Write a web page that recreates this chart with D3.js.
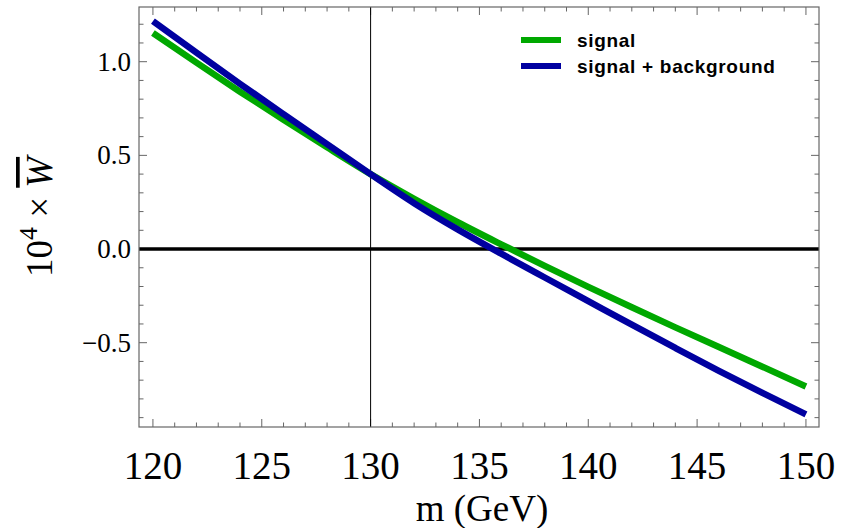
<!DOCTYPE html>
<html>
<head>
<meta charset="utf-8">
<script src="https://cdn.jsdelivr.net/npm/d3@7"></script>
<style>
  html, body { margin: 0; padding: 0; background: #fff; }
  svg text { fill: #000; }
</style>
</head>
<body>
<div id="chart"></div>
<script>
// masses (GeV)
const masses = [120, 122, 124, 126, 128, 130, 132, 134, 136, 138, 140, 142, 144, 146, 148, 150];
// 10^4 x W-bar
const signalValues = [1.153, 0.995, 0.84, 0.69, 0.543, 0.40, 0.268, 0.143, 0.025, -0.09, -0.202, -0.311, -0.418, -0.523, -0.628, -0.734];
const signalBgValues = [1.217, 1.048, 0.882, 0.72, 0.56, 0.40, 0.245, 0.105, -0.025, -0.152, -0.278, -0.404, -0.528, -0.65, -0.768, -0.883];

const xTicks = [120, 125, 130, 135, 140, 145, 150];
const yTicks = [-0.5, 0.0, 0.5, 1.0];
const seriesNames = ['signal', 'signal + background'];
const seriesColors = ['#00a800', '#0000a0'];
const markerMass = 130;

const W = 852, H = 528;
const margin = { top: 7, right: 33, bottom: 101, left: 139 };
const width = W - margin.left - margin.right;
const height = H - margin.top - margin.bottom;

const svg = d3.select('#chart').append('svg')
  .attr('width', W)
  .attr('height', H);

const g = svg.append('g')
  .attr('transform', `translate(${margin.left},${margin.top})`);

const x = d3.scaleLinear().domain([119.36, 150.6]).range([0, width]);
const y = d3.scaleLinear().domain([-0.95, 1.292]).range([height, 0]);

const frameColor = '#666';
const serif = '"Liberation Serif", "Times New Roman", serif';

// minor / major ticks, drawn inward on all four sides
const xMinor = d3.range(120, 151, 1).filter(v => !xTicks.includes(v));
const yMinor = d3.range(-9, 13).map(v => v / 10).filter(v => !yTicks.some(t => Math.abs(t - v) < 1e-9));

function drawTicks(values, len) {
  values.forEach(v => {
    g.append('line').attr('x1', x(v)).attr('x2', x(v)).attr('y1', height).attr('y2', height - len)
      .attr('stroke', frameColor).attr('stroke-width', 1);
    g.append('line').attr('x1', x(v)).attr('x2', x(v)).attr('y1', 0).attr('y2', len)
      .attr('stroke', frameColor).attr('stroke-width', 1);
  });
}
function drawYTicks(values, len) {
  values.forEach(v => {
    g.append('line').attr('x1', 0).attr('x2', len).attr('y1', y(v)).attr('y2', y(v))
      .attr('stroke', frameColor).attr('stroke-width', 1);
    g.append('line').attr('x1', width).attr('x2', width - len).attr('y1', y(v)).attr('y2', y(v))
      .attr('stroke', frameColor).attr('stroke-width', 1);
  });
}
drawTicks(xMinor, 4.5);
drawTicks(xTicks, 8);
drawYTicks(yMinor, 4.5);
drawYTicks(yTicks, 8);

// tick labels
g.selectAll('.xlab')
  .data(xTicks)
  .join('text')
    .attr('class', 'xlab')
    .attr('x', d => x(d))
    .attr('y', height + 52)
    .attr('text-anchor', 'middle')
    .style('font-family', serif)
    .style('font-size', '39px')
    .text(d => d);

g.selectAll('.ylab')
  .data(yTicks)
  .join('text')
    .attr('class', 'ylab')
    .attr('x', -8)
    .attr('y', d => y(d) + 9)
    .attr('text-anchor', 'end')
    .style('font-family', serif)
    .style('font-size', '27px')
    .text(d => (d < 0 ? '\u2212' : '') + Math.abs(d).toFixed(1));

// reference lines
g.append('line')
  .attr('x1', x(markerMass)).attr('x2', x(markerMass))
  .attr('y1', 0).attr('y2', height)
  .attr('stroke', '#000').attr('stroke-width', 1);

g.append('line')
  .attr('x1', 0).attr('x2', width)
  .attr('y1', y(0)).attr('y2', y(0))
  .attr('stroke', '#000').attr('stroke-width', 3.5);

// curves
const line = d3.line()
  .x(d => x(d[0]))
  .y(d => y(d[1]))
  .curve(d3.curveMonotoneX);

[signalValues, signalBgValues].forEach((vals, i) => {
  g.append('path')
    .datum(masses.map((m, j) => [m, vals[j]]))
    .attr('fill', 'none')
    .attr('stroke', seriesColors[i])
    .attr('stroke-width', 6.5)
    .attr('d', line);
});

// frame
g.append('rect')
  .attr('x', 0).attr('y', 0).attr('width', width).attr('height', height)
  .attr('fill', 'none').attr('stroke', frameColor).attr('stroke-width', 1.2);

// legend
const legend = svg.append('g').attr('transform', 'translate(521,40)');
seriesNames.forEach((name, i) => {
  legend.append('line')
    .attr('x1', 0).attr('x2', 40)
    .attr('y1', i * 26).attr('y2', i * 26)
    .attr('stroke', seriesColors[i]).attr('stroke-width', 6);
  legend.append('text')
    .attr('x', 56).attr('y', i * 26 + 7)
    .style('font-family', '"Liberation Sans", Arial, sans-serif')
    .style('font-weight', 'bold')
    .style('font-size', '19px')
    .style('letter-spacing', '0.7px')
    .text(name);
});

// axis titles
svg.append('text')
  .attr('x', margin.left + width / 2 + 3)
  .attr('y', 521)
  .attr('text-anchor', 'middle')
  .style('font-family', serif)
  .style('font-size', '37px')
  .text('m (GeV)');

const yt = svg.append('text')
  .attr('transform', `translate(52,${margin.top + height / 2}) rotate(-90)`)
  .attr('text-anchor', 'middle')
  .style('font-family', serif)
  .style('font-size', '37px');
yt.append('tspan').text('10');
yt.append('tspan').attr('dy', -15).style('font-size', '26px').text('4');
yt.append('tspan').attr('dy', 15).text(' \u00d7 ');
yt.append('tspan').style('font-style', 'italic').style('text-decoration', 'overline').text('W');
</script>
</body>
</html>
